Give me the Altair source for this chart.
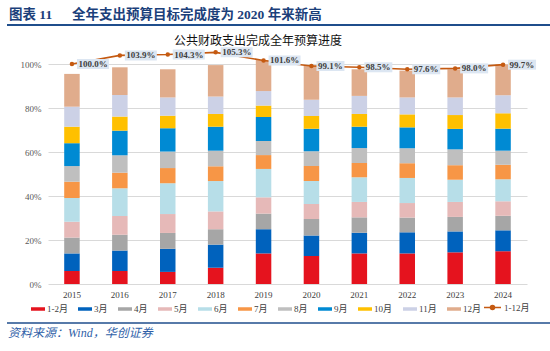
import altair as alt
import pandas as pd

years = ["2015", "2016", "2017", "2018", "2019", "2020", "2021", "2022", "2023", "2024"]
months = ["1-2月", "3月", "4月", "5月", "6月", "7月", "8月", "9月", "10月", "11月", "12月"]
colors = ["#E5131E", "#0062BD", "#A6A6A6", "#E6B9B8", "#B7DEE8", "#F79646",
          "#BFBFBF", "#008AD3", "#FFC000", "#CCD1E6", "#E0AC8C"]

m1_2 = [5.9, 5.9, 5.5, 7.4, 13.9, 12.7, 13.9, 13.9, 14.4, 14.9]
m3 = [8.0, 9.3, 10.5, 10.5, 11.0, 9.3, 9.4, 9.6, 9.5, 9.5]
m4 = [7.2, 7.2, 7.2, 7.0, 7.1, 7.5, 7.0, 6.7, 6.6, 6.6]
m5 = [7.2, 8.5, 8.6, 8.1, 7.4, 6.9, 7.0, 6.6, 6.8, 6.6]
m6 = [10.8, 12.6, 14.0, 13.8, 12.9, 10.4, 11.2, 11.4, 10.1, 10.0]
m7 = [7.4, 7.1, 6.9, 6.7, 6.3, 6.8, 6.5, 6.7, 6.6, 6.6]
m8 = [7.1, 7.9, 7.5, 7.1, 6.4, 6.7, 6.8, 6.8, 7.2, 6.4]
m9 = [10.4, 11.2, 10.6, 10.9, 10.9, 10.3, 9.7, 9.5, 9.3, 10.0]
m10 = [7.5, 6.4, 5.7, 5.8, 5.2, 5.8, 5.8, 5.9, 6.3, 7.0]
m11 = [9.1, 9.8, 8.3, 7.9, 6.6, 7.4, 8.2, 7.7, 8.0, 8.2]
m12 = [14.9, 12.6, 12.8, 14.3, 14.1, 15.7, 12.1, 12.2, 12.8, 14.0]
full_year = [100.0, 103.9, 104.3, 105.3, 101.6, 99.1, 98.5, 97.6, 98.0, 99.7]

series = [m1_2, m3, m4, m5, m6, m7, m8, m9, m10, m11, m12]
rows = []
for mi, (m, vals) in enumerate(zip(months, series)):
    for y, v in zip(years, vals):
        rows.append({"year": y, "month": m, "order": mi, "value": v})
bars_df = pd.DataFrame(rows)

line_df = pd.DataFrame({
    "year": years,
    "full": full_year,
    "series": ["1-12月"] * len(years),
    "label": [f"{v:.1f}%" for v in full_year],
})

SERIF = "Liberation Serif, Noto Sans CJK SC"
LINE_C = "#C55A11"

x_enc = alt.X("year:N", sort=years, title=None,
              scale=alt.Scale(paddingInner=0.676, paddingOuter=0.338),
              axis=alt.Axis(labelAngle=0, ticks=False, domain=False, grid=False,
                            labelPadding=6, labelFont=SERIF, labelFontSize=9,
                            labelColor="#404040"))
y_scale = alt.Scale(domain=[0, 100], nice=False)

bars = alt.Chart(bars_df).mark_bar(size=15.5).encode(
    x=x_enc,
    y=alt.Y("value:Q", stack="zero", scale=y_scale, title=None,
            axis=alt.Axis(values=[0, 20, 40, 60, 80, 100], labelExpr="datum.value + '%'",
                          ticks=False, domain=False, gridColor="#D9D9D9", gridWidth=1,
                          labelPadding=7, labelFont=SERIF, labelFontSize=9,
                          labelColor="#595959")),
    color=alt.Color("month:N", sort=months,
                    scale=alt.Scale(domain=months, range=colors),
                    legend=alt.Legend(orient="none", legendX=-17, legendY=238,
                                      direction="horizontal", title=None,
                                      symbolType="M-1,-0.25L1,-0.25L1,0.25L-1,0.25Z",
                                      symbolSize=196, symbolStrokeWidth=0,
                                      labelFont=SERIF, labelFontSize=9,
                                      labelColor="#404040", labelOffset=2,
                                      columnPadding=10, padding=0, columns=11)),
    order=alt.Order("order:Q", sort="ascending"),
)

line = alt.Chart(line_df).mark_line(strokeWidth=1.6).encode(
    x=alt.X("year:N", sort=years),
    y=alt.Y("full:Q", scale=y_scale),
    stroke=alt.Stroke("series:N", scale=alt.Scale(domain=["1-12月"], range=[LINE_C]),
                      legend=alt.Legend(orient="none", legendX=435, legendY=234,
                                        title=None,
                                        symbolType="M-1,0L1,0M0.24,0A0.24,0.24 0 1 1 -0.24,0A0.24,0.24 0 1 1 0.24,0",
                                        symbolSize=289, symbolStrokeWidth=1.5,
                                        symbolFillColor=LINE_C,
                                        labelFont=SERIF, labelFontSize=9,
                                        labelColor="#404040", labelOffset=2,
                                        padding=0)),
)

pts = alt.Chart(line_df).mark_point(filled=True, size=20, color=LINE_C, opacity=1).encode(
    x=alt.X("year:N", sort=years),
    y=alt.Y("full:Q", scale=y_scale),
)

LONG_BOX = "M1,-1L7.4,-1L7.4,1L1,1Z"
SHORT_BOX = "M1,-1L6.6,-1L6.6,1L1,1Z"
boxes = alt.Chart(line_df).mark_point(filled=True, size=100, color="#DCE6F2",
                                      opacity=1, strokeWidth=0).encode(
    x=alt.X("year:N", sort=years),
    y=alt.Y("full:Q", scale=y_scale),
    shape=alt.condition(alt.datum.full >= 100, alt.value(LONG_BOX), alt.value(SHORT_BOX)),
)

labels = alt.Chart(line_df).mark_text(align="left", baseline="middle", xOffset=6.5,
                                      font=SERIF, fontSize=9, fontWeight="bold",
                                      color="#404040").encode(
    x=alt.X("year:N", sort=years),
    y=alt.Y("full:Q", scale=y_scale),
    text="label:N",
)

one = pd.DataFrame({"t": [""]})

header1 = alt.Chart(one).mark_text(text="图表 11", align="left", baseline="middle",
                                   font=SERIF, fontSize=13.5, fontWeight="bold",
                                   color="#1B3F7A").encode(x=alt.value(-39), y=alt.value(-49.5))
header2 = alt.Chart(one).mark_text(text="全年支出预算目标完成度为 2020 年来新高", align="left",
                                   baseline="middle", font=SERIF, fontSize=13.5,
                                   fontWeight="bold", color="#1B3F7A").encode(
    x=alt.value(24), y=alt.value(-49.5))
hline = alt.Chart(one).mark_rule(color="#1F4E8C", strokeWidth=2).encode(
    x=alt.value(-41), x2=alt.value(502), y=alt.value(-39))
ctitle = alt.Chart(one).mark_text(text="公共财政支出完成全年预算进度", align="center",
                                  baseline="middle", font="Noto Sans CJK SC", fontSize=12,
                                  color="#111111").encode(x=alt.value(210), y=alt.value(-23.5))
sline = alt.Chart(one).mark_rule(color="#1F4E8C", strokeWidth=1.5).encode(
    x=alt.value(-41), x2=alt.value(502), y=alt.value(259))
source = alt.Chart(one).mark_text(text="资料来源：Wind，华创证券", align="left",
                                  baseline="middle", font=SERIF, fontSize=12,
                                  fontStyle="italic", color="#2F5FA8").encode(
    x=alt.value(-40), y=alt.value(269))

chart = alt.layer(bars, line, pts, boxes, labels, header1, header2, hline, ctitle,
                  sline, source).resolve_legend(color="independent", stroke="independent").properties(
    width=479, height=220,
    autosize=alt.AutoSizeParams(type="none"),
    padding={"left": 48, "top": 64, "right": 23, "bottom": 67},
    background="white",
).configure_view(stroke=None)

chart.save("out.html", embed_options={"renderer": "svg", "actions": False})
